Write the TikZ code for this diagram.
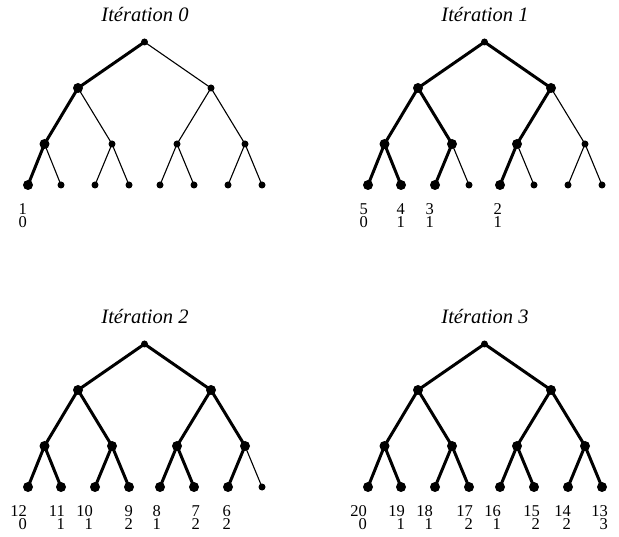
\documentclass[tikz,border=0pt]{standalone}
\usepackage{fontspec}
\setmainfont{Liberation Serif}
\usetikzlibrary{backgrounds}
\tikzset{
  thickedge/.style={line width=3pt},
  thinedge/.style={line width=1.1pt},
  bigdot/.style={circle,fill=black,inner sep=0pt,minimum size=10pt},
  smalldot/.style={circle,fill=black,inner sep=0pt,minimum size=7pt},
  ttl/.style={font=\fontsize{20.5}{22}\selectfont\itshape,anchor=base,inner sep=0pt},
  lab/.style={font=\fontsize{16.5}{13.5}\selectfont,align=right,anchor=north east,inner sep=0pt},
}
% #1 iteration number, #2 x offset, #3 y offset, #4 flags for nodes 2..15 (1 = thick), #5 labels col/top/bottom
\newcommand\mytree[5]{%
  \begin{scope}[shift={(#2,#3)}]
    \foreach \i/\x/\y in {1/144.5/42,2/78/88,3/211/88,4/44.5/144,5/112/144,6/177/144,7/245/144,
      8/28/185,9/61/185,10/95/185,11/129/185,12/160/185,13/194/185,14/228/185,15/262/185}
      {\coordinate (t#1-p\i) at (\x,\y);}
    \node[smalldot] (t#1-1) at (t#1-p1) {};
    \foreach \f [count=\c from 2] in {#4} {%
      \ifnum\f=1 \node[bigdot] (t#1-\c) at (t#1-p\c) {};
      \else \node[smalldot] (t#1-\c) at (t#1-p\c) {};\fi
    }
    \begin{pgfonlayer}{background}
      \foreach \f [count=\c from 2] in {#4} {%
        \pgfmathtruncatemacro\pp{\c/2}%
        \ifnum\f=1 \draw[thickedge] (t#1-\pp.center) -- (t#1-\c.center);
        \else \draw[thinedge] (t#1-\pp.center) -- (t#1-\c.center);\fi
      }
    \end{pgfonlayer}
    \node[ttl] (t#1-title) at (145,22) {Itération #1};
    \foreach \x/\a/\b [count=\k] in {#5} {%
      \node[lab] (t#1-l\k) at (\x,203) {\a\\\b};
    }
  \end{scope}
}
\begin{document}
\begin{tikzpicture}[x=1pt,y=-1pt]
  \useasboundingbox (0,0) rectangle (619,537);
  \mytree{0}{0}{0}{1,0,1,0,0,0,1,0,0,0,0,0,0,0}{27/1/0}
  \mytree{1}{340}{0}{1,1,1,1,1,0,1,1,1,0,1,0,0,0}{28/5/0,65/4/1,94/3/1,162/2/1}
  \mytree{2}{0}{302}{1,1,1,1,1,1,1,1,1,1,1,1,1,0}{27/12/0,65/11/1,93/10/1,133/9/2,161/8/1,200/7/2,231/6/2}
  \mytree{3}{340}{302}{1,1,1,1,1,1,1,1,1,1,1,1,1,1}{27/20/0,65/19/1,93/18/1,133/17/2,161/16/1,200/15/2,231/14/2,268/13/3}
\end{tikzpicture}
\end{document}
